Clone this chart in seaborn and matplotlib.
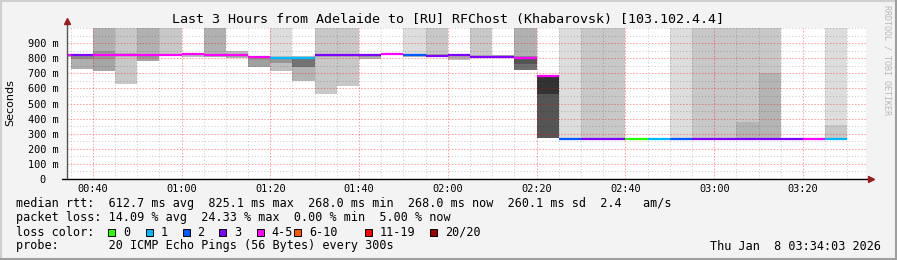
import numpy as np
import pandas as pd
import matplotlib
matplotlib.use("Agg")
import matplotlib.pyplot as plt
import seaborn as sns
from matplotlib.patches import Rectangle
from matplotlib.lines import Line2D
from matplotlib.ticker import FixedLocator, MultipleLocator, FixedFormatter

# ---------------- data ----------------
# column start (minutes after 00:00), each column = 5 min
start_min = [30, 35, 40, 45, 50, 55, 60, 65, 70, 75, 80, 85, 90, 95, 100, 105, 110, 115,
             120, 125, 130, 135, 140, 145, 150, 155, 160, 165, 170, 175, 180, 185, 190, 195,
             200, 205]
median_ms = [822, 818, 820, 823, 818, 822, 828, 820, 818, 808, 800, 800, 820, 822, 822, 830,
             820, 815, 818, 811, 811, 800, 683, 268, 268, 268, 268, 268, 268, 268, 268, 268,
             268, 268, 268, 268]
loss_idx = [4, 3, 4, 4, 4, 4, 4, 4, 4, 4, 1, 1, 3, 3, 3, 4, 2, 3, 3, 3, 3, 4, 4, 2, 3, 3, 0,
            1, 2, 3, 3, 3, 3, 3, 4, 1]
nan = np.nan
# smoke above the median
up_hi = [828, 825, 850, 835, 830, 830, 833, 830, 850, 815, 817, 815, 830, 830, 826, 834,
         828, 825, 823, 820, 822, 815, 690, nan, nan, nan, nan, nan, nan, nan, nan, 380,
         702, nan, nan, 357]
up_gray = [150, 150, 150, 170, 150, 175, 190, 150, 185, 180, 190, 190, 175, 175, 200, 200,
           200, 160, 200, 175, 170, 140, 60, nan, nan, nan, nan, nan, nan, nan, nan, 180,
           180, nan, nan, 200]
# grey column reaching to the top of the graph
top_from = [nan, nan, 850, 835, 830, 830, nan, 830, nan, nan, 817, nan, 830, 830, nan, nan,
            828, 825, nan, 820, nan, 815, nan, 268, 268, 268, nan, nan, 268, 268, 268, 380,
            702, nan, nan, 357]
top_gray = [nan, nan, 177, 200, 177, 200, nan, 177, nan, nan, 221, nan, 200, 200, nan, nan,
            221, 200, nan, 200, nan, 177, nan, 221, 200, 200, nan, nan, 221, 200, 200, 200,
            200, nan, nan, 221]
# smoke below the median: inner band and outer band
mid_lo = [812, 797, 795, 805, 800, 815, 815, 812, 808, 790, 770, 740, 810, 810, 810, 826,
          810, 808, 800, 808, 808, 763, 563, nan, nan, nan, nan, nan, nan, nan, nan, nan,
          nan, nan, nan, nan]
mid_gray = [150, 140, 150, 180, 150, 175, 180, 160, 160, 150, 150, 115, 175, 175, 160, 180,
            180, 150, 170, 170, 170, 85, 51, nan, nan, nan, nan, nan, nan, nan, nan, nan,
            nan, nan, nan, nan]
low_lo = [805, 728, 716, 632, 784, 813, 806, 810, 803, 744, 717, 651, 562, 616, 797, 824,
          806, 805, 790, 806, 806, 720, 272, nan, nan, nan, nan, nan, nan, nan, nan, nan,
          nan, nan, nan, nan]
low_gray = [180, 175, 165, 200, 165, 180, 190, 170, 185, 160, 190, 180, 200, 200, 180, 200,
            200, 170, 190, 190, 190, 110, 85, nan, nan, nan, nan, nan, nan, nan, nan, nan,
            nan, nan, nan, nan]

loss_labels = ["0", "1", "2", "3", "4-5", "6-10", "11-19", "20/20"]
loss_colors = ["#26ff00", "#00b8ff", "#0059ff", "#7e00ff", "#ff00ff", "#ff5500", "#ff0000", "#a10000"]

x_tick_min = [40, 60, 80, 100, 120, 140, 160, 180, 200]
x_tick_labels = ["00:40", "01:00", "01:20", "01:40", "02:00", "02:20", "02:40", "03:00", "03:20"]
y_ticks = [0, 100, 200, 300, 400, 500, 600, 700, 800, 900]
y_tick_labels = ["0  ", "100 m", "200 m", "300 m", "400 m", "500 m", "600 m", "700 m", "800 m", "900 m"]

title = "Last 3 Hours from Adelaide to [RU] RFChost (Khabarovsk) [103.102.4.4]"
legend_lines = [
    "median rtt:  612.7 ms avg  825.1 ms max  268.0 ms min  268.0 ms now  260.1 ms sd  2.4   am/s",
    "packet loss: 14.09 % avg  24.33 % max  0.00 % min  5.00 % now",
    "loss color:",
    "probe:       20 ICMP Echo Pings (56 Bytes) every 300s",
]
date_text = "Thu Jan  8 03:34:03 2026"

# ---------------- figure ----------------
sns.set_theme(style="white")
plt.rcParams["font.family"] = ["DejaVu Sans Mono", "DejaVu Sans"]

W, H = 897, 260
BG = "#f3f3f3"
fig = plt.figure(figsize=(W / 100, H / 100), dpi=100, facecolor=BG)


def fx(px):
    return px / W


def fy(py):
    return 1 - py / H


ax = fig.add_axes([fx(67), fy(179), 799 / W, 151 / H])
ax.set_facecolor("white")
ax.set_xlim(34.2, 214.2)
ax.set_ylim(0, 1000)


def g2hex(g):
    g = int(g)
    return "#{0:02x}{0:02x}{0:02x}".format(g)


df = pd.DataFrame(dict(start=start_min, med=median_ms, loss=loss_idx, up_hi=up_hi,
                       up_gray=up_gray, top_from=top_from, top_gray=top_gray,
                       mid_lo=mid_lo, mid_gray=mid_gray, low_lo=low_lo, low_gray=low_gray))

# top grey columns
t = df.dropna(subset=["top_from"])
ax.bar(t["start"], 1000 - t["top_from"], bottom=t["top_from"], width=5, align="edge",
       color=[g2hex(g) for g in t["top_gray"]], linewidth=0, zorder=1)
# smoke above median
u = df.dropna(subset=["up_hi"])
ax.bar(u["start"], u["up_hi"] - u["med"], bottom=u["med"], width=5, align="edge",
       color=[g2hex(g) for g in u["up_gray"]], linewidth=0, zorder=1)
# outer low smoke
lo = df.dropna(subset=["low_lo"])
ax.bar(lo["start"], lo["mid_lo"] - lo["low_lo"], bottom=lo["low_lo"], width=5, align="edge",
       color=[g2hex(g) for g in lo["low_gray"]], linewidth=0, zorder=1)
# inner low smoke
mi = df.dropna(subset=["mid_lo"])
ax.bar(mi["start"], mi["med"] - mi["mid_lo"], bottom=mi["mid_lo"], width=5, align="edge",
       color=[g2hex(g) for g in mi["mid_gray"]], linewidth=0, zorder=1)

# median line, coloured by loss
rows = []
for i, (s, m, l) in enumerate(zip(start_min, median_ms, loss_idx)):
    rows.append(dict(t=s, v=m, seg=i, loss=loss_labels[l]))
    rows.append(dict(t=s + 5, v=m, seg=i, loss=loss_labels[l]))
mdf = pd.DataFrame(rows)
sns.lineplot(data=mdf, x="t", y="v", hue="loss", units="seg", estimator=None,
             palette=dict(zip(loss_labels, loss_colors)), legend=False, sort=False,
             linewidth=1.6, solid_capstyle="butt", ax=ax, zorder=3)
ax.set_xlabel("")
ax.set_ylabel("")

# ticks & grid
ax.xaxis.set_major_locator(FixedLocator(x_tick_min))
ax.xaxis.set_major_formatter(FixedFormatter(x_tick_labels))
ax.xaxis.set_minor_locator(MultipleLocator(5))
ax.yaxis.set_major_locator(FixedLocator(y_ticks))
ax.yaxis.set_major_formatter(FixedFormatter(y_tick_labels))
ax.yaxis.set_minor_locator(MultipleLocator(50))
ax.set_axisbelow("line")
ax.grid(which="major", color="#ff0000", alpha=0.36, linestyle=(0, (1.5, 1.5)), linewidth=0.75)
ax.grid(which="minor", color="#000000", alpha=0.19, linestyle=(0, (1, 2)), linewidth=0.75)
ax.tick_params(axis="both", which="both", length=2, width=0.6, color="#777777",
               direction="out", labelsize=7.4, labelcolor="black")
ax.tick_params(axis="x", which="major", pad=1.3)
ax.tick_params(axis="y", which="major", pad=4)
for lab in ax.get_xticklabels() + ax.get_yticklabels():
    lab.set_family("DejaVu Sans Mono")
for sp in ax.spines.values():
    sp.set_visible(False)

# axis lines with arrows
ax.add_line(Line2D([0, 0], [0, 1.03], transform=ax.transAxes, color="#555555",
                   linewidth=1, clip_on=False, zorder=5))
ax.add_line(Line2D([-5 / 799, 1.004], [0, 0], transform=ax.transAxes, color="black",
                   linewidth=1, clip_on=False, zorder=5))
ax.plot([0], [1.045], transform=ax.transAxes, marker="^", markersize=4.5, color="#9c1c1c",
        clip_on=False, zorder=6)
ax.plot([1.006], [0], transform=ax.transAxes, marker=">", markersize=4.5, color="#9c1c1c",
        clip_on=False, zorder=6)

# texts
fig.text(fx(448), fy(19), title, ha="center", va="center", fontsize=9.6,
         family="DejaVu Sans Mono", color="black")
fig.text(fx(10), fy(103), "Seconds", rotation=90, ha="center", va="center",
         fontsize=8, family="DejaVu Sans", color="black")
fig.text(fx(887), fy(5), "RRDTOOL / TOBI OETIKER", rotation=270, ha="center", va="top",
         fontsize=6, family="DejaVu Sans Mono", color="#b8b8b8")

legend_y = [204, 218, 232, 246]
for txt, yy in zip(legend_lines, legend_y):
    fig.text(fx(16), fy(yy), txt, ha="left", va="center", fontsize=8.5,
             family="DejaVu Sans Mono", color="black")

box_x = [108.3, 145.7, 182.7, 219.3, 256.7, 294.3, 365, 430]
for bx, lab, col in zip(box_x, loss_labels, loss_colors):
    fig.patches.append(Rectangle((fx(bx), fy(235.5)), 7 / W, 7 / H, transform=fig.transFigure,
                                 facecolor=col, edgecolor="black", linewidth=0.7))
    fig.text(fx(bx + 14.7), fy(232), lab, ha="left", va="center", fontsize=8.5,
             family="DejaVu Sans Mono", color="black")

fig.text(fx(881), fy(246), date_text, ha="right", va="center", fontsize=8.5,
         family="DejaVu Sans Mono", color="black")

# 3D-ish frame
fig.add_artist(Line2D([fx(1), fx(1)], [0, 1], transform=fig.transFigure, color="#cfcfcf", lw=1.5))
fig.add_artist(Line2D([0, 1], [fy(1), fy(1)], transform=fig.transFigure, color="#cfcfcf", lw=1.5))
fig.add_artist(Line2D([fx(896), fx(896)], [0, 1], transform=fig.transFigure, color="#9e9e9e", lw=1.5))
fig.add_artist(Line2D([0, 1], [fy(259), fy(259)], transform=fig.transFigure, color="#9e9e9e", lw=1.5))

fig.savefig("out.png", dpi=100, facecolor=BG)
